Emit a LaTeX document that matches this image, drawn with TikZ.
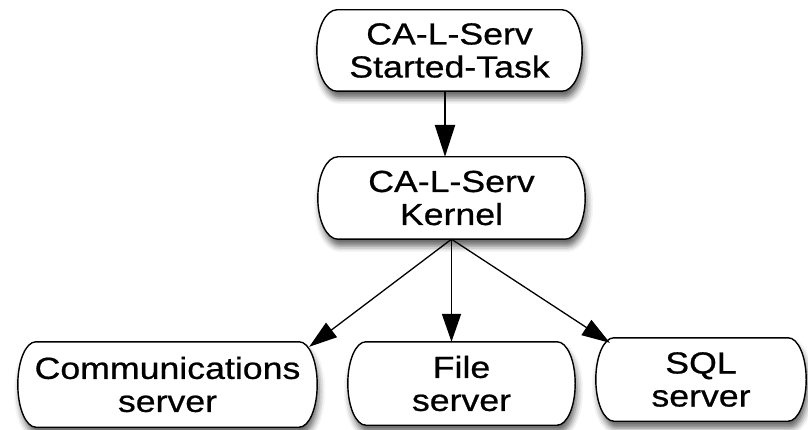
\documentclass[tikz,border=0pt]{standalone}
\usepackage{fontspec}
\setmainfont[FakeStretch=1.17,FakeBold=0.7]{Liberation Sans}
\usetikzlibrary{arrows.meta,calc,backgrounds,shadows.blur}
\newcommand\pillaround[2]{%
  \path[pillline] let \p1=(#1.north west), \p2=(#1.south east), \n1={(\y1-\y2)/2} in
    (\x1+#2,\y1) -- (\x2-#2,\y1)
    arc[start angle=90,end angle=-90,x radius=#2,y radius=\n1]
    -- (\x1+#2,\y2)
    arc[start angle=270,end angle=90,x radius=#2,y radius=\n1]
    -- cycle;}
\begin{document}
\begin{tikzpicture}[x=1pt,y=-1pt,
  box/.style={inner sep=0pt, align=center, font=\fontsize{30.5}{33}\selectfont},
  pillline/.style={draw=black, line width=1.4pt, fill=white,
    blur shadow={shadow xshift=2pt, shadow yshift=-7pt, shadow blur radius=6pt, shadow opacity=60}},
  arr/.style={line width=1.3pt, -{Triangle[length=28pt,width=18pt]}},
  arrv/.style={line width=1.8pt, -{Triangle[length=28pt,width=19pt]}},
  arrbig/.style={line width=2.5pt, -{Triangle[length=32pt,width=20pt]}}
]
\useasboundingbox (0,0) rectangle (808,430);
\node[box, minimum width=265pt, minimum height=81pt] (top) at (449.5,50.5) {CA-L-Serv\\Started-Task};
\node[box, minimum width=267pt, minimum height=82pt] (kernel) at (451.5,198) {CA-L-Serv\\Kernel};
\node[box, minimum width=299pt, minimum height=85pt] (comm) at (167.5,384.5) {Communications\\server};
\node[box, minimum width=227pt, minimum height=83pt] (file) at (461.5,383.5) {File\\server};
\node[box, minimum width=210pt, minimum height=83pt] (sql) at (701,379.5) {SQL\\server};
\begin{scope}[on background layer]
  \pillaround{top}{20pt}
  \pillaround{kernel}{20pt}
  \pillaround{comm}{18pt}
  \pillaround{file}{18pt}
  \pillaround{sql}{18pt}
\end{scope}
\coordinate (ax) at (445,0);
\draw[arrbig] (top.south -| ax) -- (kernel.north -| ax);
\draw[arr] (kernel.south) -- ([shift={(-8,5)}]comm.north east);
\draw[arrv] (kernel.south) -- (kernel.south |- file.north);
\draw[arr] (kernel.south) -- ([shift={(14,5)}]sql.north west);
\end{tikzpicture}
\end{document}
